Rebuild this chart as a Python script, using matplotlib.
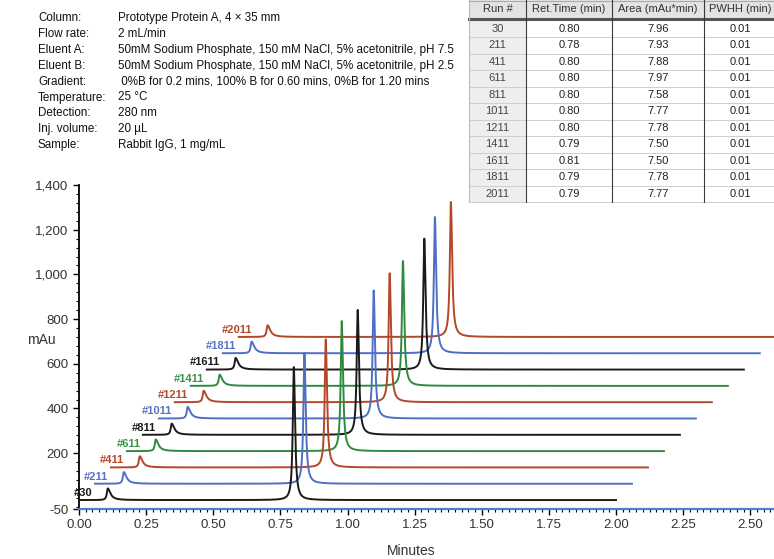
import numpy as np
import matplotlib
matplotlib.use("Agg")
import matplotlib.pyplot as plt
from matplotlib.ticker import MultipleLocator, FuncFormatter
from matplotlib.patches import Rectangle

plt.rcParams['font.family'] = ['Liberation Sans', 'DejaVu Sans']

# Conditions (texte en haut a gauche)
cond_labels = ["Column:", "Flow rate:", "Eluent A:", "Eluent B:", "Gradient:",
               "Temperature:", "Detection:", "Inj. volume:", "Sample:"]
cond_values = ["Prototype Protein A, 4 \u00d7 35 mm",
               "2 mL/min",
               "50mM Sodium Phosphate, 150 mM NaCl, 5% acetonitrile, pH 7.5",
               "50mM Sodium Phosphate, 150 mM NaCl, 5% acetonitrile, pH 2.5",
               " 0%B for 0.2 mins, 100% B for 0.60 mins, 0%B for 1.20 mins",
               "25 \u00b0C",
               "280 nm",
               "20 \u00b5L",
               "Rabbit IgG, 1 mg/mL"]

# Tableau
table_header = ["Run #", "Ret.Time (min)", "Area (mAu*min)", "PWHH (min)"]
runs = ["30", "211", "411", "611", "811", "1011", "1211", "1411", "1611", "1811", "2011"]
ret_time = [0.80, 0.78, 0.80, 0.80, 0.80, 0.80, 0.80, 0.79, 0.81, 0.79, 0.79]
area = [7.96, 7.93, 7.88, 7.97, 7.58, 7.77, 7.78, 7.50, 7.50, 7.78, 7.77]
pwhh = [0.01, 0.01, 0.01, 0.01, 0.01, 0.01, 0.01, 0.01, 0.01, 0.01, 0.01]

# Chromatogrammes
peak_height = [595, 586, 573, 582, 559, 573, 577, 559, 586, 610, 604]
inj_time = 0.107
inj_height = [52, 52, 50, 52, 50, 52, 51, 50, 52, 52, 52]
run_length = 2.0
x_step = 0.0595
y_step = 73
y_base = -10

trace_colors = ["#1a1a1a", "#4f6fc4", "#b4462a", "#2f8a3f"]
label_colors = ["#1a1a1a", "#5a72c8", "#b24a2c", "#3a9448"]


def peak(t, t0, h, wl, wr):
    w = np.where(t < t0, wl, wr)
    return h / (1 + ((t - t0) / w) ** 2)


def main():
    fig = plt.figure(figsize=(7.74, 5.59), dpi=100)

    ax = fig.add_axes([79 / 774, 1 - 509 / 559, 1 - 79 / 774, (509 - 185) / 559])
    t = np.linspace(0, run_length, 8001)
    for i in range(len(runs)):
        col = trace_colors[i % 4]
        y = peak(t, inj_time, inj_height[i], 0.004, 0.012)
        y = y + peak(t, ret_time[i], peak_height[i], 0.0045, 0.0055)
        x0 = i * x_step
        b = y_base + i * y_step
        ax.plot(t + x0, y + b, color=col, lw=1.4, zorder=20 - i)
        ax.text(x0 + 0.05, b + 10, "#" + runs[i], color=label_colors[i % 4],
                fontsize=8, fontweight="bold", ha="right", va="bottom")

    ax.set_xlim(0, 695 / 268.5)
    ax.set_ylim(-50, 1400)
    ax.spines["top"].set_visible(False)
    ax.spines["right"].set_visible(False)
    ax.spines["left"].set_linewidth(1.3)
    ax.spines["bottom"].set_color("#4a80d0")
    ax.spines["bottom"].set_linewidth(1.6)
    ax.set_facecolor("none")

    ax.set_yticks([-50, 200, 400, 600, 800, 1000, 1200, 1400])
    ax.yaxis.set_major_formatter(FuncFormatter(lambda v, p: f"{v:,.0f}"))
    ax.yaxis.set_minor_locator(MultipleLocator(40))
    ax.xaxis.set_major_locator(MultipleLocator(0.25))
    ax.xaxis.set_minor_locator(MultipleLocator(0.025))
    ax.xaxis.set_major_formatter(FuncFormatter(lambda v, p: f"{v:.2f}"))
    ax.tick_params(which="major", length=4, width=1, labelsize=9.5, labelcolor="#333333")
    ax.tick_params(which="minor", length=2, width=0.8)

    fig.text(41 / 774, 1 - 340 / 559, "mAu", fontsize=10, color="#333333", ha="center", va="center")
    fig.text(411 / 774, 1 - 551 / 559, "Minutes", fontsize=10, color="#333333", ha="center", va="center")

    # Calque en pixels pour le texte et le tableau
    ov = fig.add_axes([0, 0, 1, 1])
    ov.set_xlim(0, 774)
    ov.set_ylim(559, 0)
    ov.axis("off")
    ov.set_facecolor("none")

    for k in range(len(cond_labels)):
        yy = 18 + k * 15.9
        ov.text(38, yy, cond_labels[k], fontsize=8.4, color="#111111", va="center")
        ov.text(118, yy, cond_values[k], fontsize=8.4, color="#111111", va="center")

    col_x = [469, 526, 612, 704, 800]
    row_h = 16.5
    top_rows = 20.5
    # entete
    ov.add_patch(Rectangle((col_x[0], 0), col_x[-1] - col_x[0], 17.5, color="#e3e3e3", lw=0))
    ov.add_patch(Rectangle((col_x[0], top_rows), col_x[1] - col_x[0], row_h * 11, color="#eeeeee", lw=0))
    for c in range(4):
        xc = (col_x[c] + col_x[c + 1]) / 2 if c < 3 else 740
        ov.text(xc, 9, table_header[c], fontsize=8, color="#333333", ha="center", va="center")
    ov.plot([col_x[0], 774], [18.8, 18.8], color="#555555", lw=2.2)
    ov.plot([col_x[0], 774], [0.5, 0.5], color="#aaaaaa", lw=0.8)
    for r in range(len(runs)):
        yc = top_rows + row_h * (r + 0.5)
        vals = [runs[r], f"{ret_time[r]:.2f}", f"{area[r]:.2f}", f"{pwhh[r]:.2f}"]
        for c in range(4):
            xc = (col_x[c] + col_x[c + 1]) / 2 if c < 3 else 740
            ov.text(xc, yc, vals[c], fontsize=8,
                    color="#444444" if c == 0 else "#222222", ha="center", va="center")
        ov.plot([col_x[0], 774], [top_rows + row_h * (r + 1)] * 2, color="#cfcfcf", lw=0.7)
    bottom = top_rows + row_h * 11
    ov.plot([col_x[0], col_x[0]], [0, bottom], color="#bbbbbb", lw=0.8)
    for c in range(1, 4):
        ov.plot([col_x[c], col_x[c]], [0, bottom], color="#3a3a3a", lw=0.8)

    fig.savefig("out.png", dpi=100)


if __name__ == "__main__":
    main()
